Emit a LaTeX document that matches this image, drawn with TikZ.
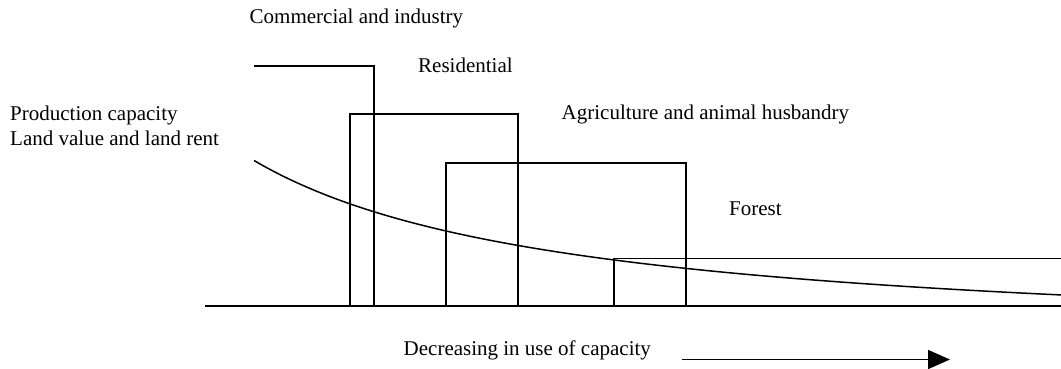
\documentclass[tikz,border=0pt]{standalone}
\usepackage{fontspec}
\setmainfont{Liberation Serif}
\usetikzlibrary{arrows.meta}
\tikzset{
  lbl/.style={anchor=base west, inner sep=0pt, font=\fontsize{21}{24}\selectfont},
  ln/.style={line width=1.5pt, line join=miter},
}
\begin{document}
\begin{tikzpicture}[x=1pt,y=-1pt]
\useasboundingbox (0,0) rectangle (1061,368);
% texts
\node[lbl] (tcom) at (249.5,23.5) {Commercial and industry};
\node[lbl] (tres) at (418,72.5) {Residential};
\node[lbl] (tprod) at (10,120) {Production capacity};
\node[lbl] (tland) at (10,145.5) {Land value and land rent};
\node[lbl] (tagr) at (561.5,119.5) {Agriculture and animal husbandry};
\node[lbl] (tfor) at (729,215.5) {Forest};
\node[lbl] (tdec) at (403.5,355) {Decreasing in use of capacity};
% baseline
\draw[ln] (205,306) -- (1062,306);
% commercial
\draw[ln] (254,66) -- (374,66) -- (374,306);
% residential
\draw[ln] (350,306) rectangle (518,114);
% agriculture
\draw[ln] (446,306) rectangle (686,163);
% forest
\draw[ln] (1062,258.5) -- (614,258.5) -- (614,306);
% curve
\draw[ln, line join=round] plot[domain=254:1061, samples=120, smooth] (\x, {348.1 - 598.55/((\x+65)/100)});
% arrow
\coordinate (as) at (682,359.5);
\coordinate (ae) at (950,359.5);
\draw[ln, -{Triangle[length=22pt,width=19pt]}] (as) -- (ae);
\end{tikzpicture}
\end{document}
